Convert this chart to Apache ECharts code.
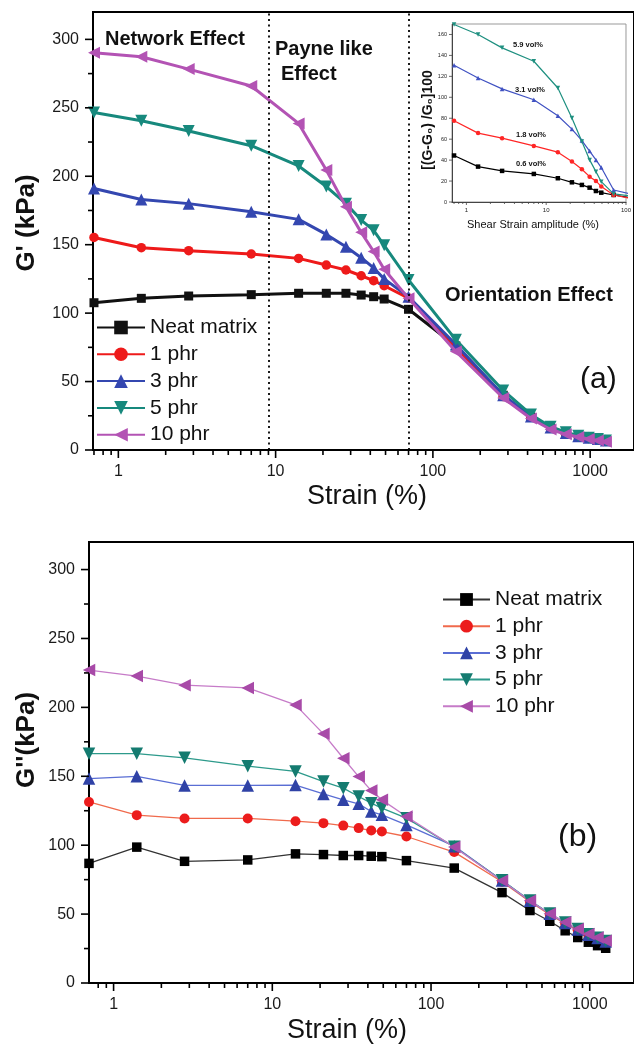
<!DOCTYPE html>
<html><head><meta charset="utf-8">
<script src="https://cdn.jsdelivr.net/npm/echarts@6/dist/echarts.min.js"></script>
<style>html,body{margin:0;padding:0;background:#fff}#c{width:634px;height:1049px}</style>
</head><body><div id="c"></div>
<script>
// ---------- data ----------
const strain = [0.7,1.4,2.8,7,14,21,28,35,42,49,70,140,280,420,560,700,840,980,1120,1260];
const seriesNames = ['Neat matrix','1 phr','3 phr','5 phr','10 phr'];
// panel (a) G' (kPa)
const gpNeat = [107.6,110.8,112.5,113.5,114.5,114.5,114.5,113.2,112,110.3,102.8,76,40,24,16,12,10,8.5,7.5,6.5];
const gp1 = [155.3,147.8,145.6,143.2,140,135.1,131.5,127.3,123.7,120,111,75,39,24,16,12,10,8.5,7.5,6.5];
const gp3 = [191,183,180,174,168.5,157.5,148.5,140.5,133,125,112,77,40,24.5,16.5,12.5,10,9,8,7];
const gp5 = [246.6,240.6,233,222.3,207.5,192.5,180,168,160.5,149.5,124.2,80.5,43.5,26,17,13,10.5,9,8,7];
const gp10 = [290.2,287.3,278.3,265.9,238.6,204.5,177.7,159,145,132,110.8,72,38,23,15,11.5,9.5,8,7,6];
// panel (b) G'' (kPa)
const gppNeat = [86.8,98.6,88.3,89.3,93.7,93.2,92.5,92.5,92,91.7,88.8,83.4,65.6,52.6,44.8,37.9,33,29.6,27.1,25.2];
const gpp1 = [131.4,121.8,119.4,119.4,117.4,116,114.2,112.4,110.6,109.9,106.3,95,73.5,59,49.5,43,38.2,34.6,32,29.6];
const gpp3 = [148.3,150,143.4,143.4,143.6,137.2,132.9,130,124.4,122,114.7,99.3,74.3,59.6,50.2,43.6,38.8,35.1,32.6,30.2];
const gpp5 = [166.4,166.4,163.4,157.3,153.5,146.2,141.4,135.3,130.5,126.9,119.6,98.8,74.6,59.8,50.4,43.9,39.1,35.4,32.9,30.5];
const gpp10 = [227.1,222.7,216.1,214.1,201.8,180.8,163.1,149.8,139.6,132.9,120.8,98.6,74.2,59.7,50.3,44,39.2,35.6,33.1,30.7];
// inset [(G-G0)/G0]100
const insetStrain = [0.7,1.4,2.8,7,14,21,28,35,42,49,70,140];
const insetNames = ['0.6 vol%','1.8 vol%','3.1 vol%','5.9 vol%'];
const inset06 = [44.4,33.8,29.7,26.8,22.7,18.8,16.3,13.7,10.5,8.9,6.7,3];
const inset18 = [77.6,65.8,61,53.6,47.6,38.6,31.3,24.2,20.1,14.7,6.7,2];
const inset31 = [130.6,118.5,108,97.7,82.4,69.6,58.7,48.6,40.2,32.9,11.5,6];
const inset59 = [169.5,160,147.2,134.4,108.9,80.2,57.8,40.2,29,19.4,7.7,5];
// regime boundaries (strain %)
const regimeLines = [9, 70];
// ticks
const xMajor = [1,10,100,1000];
const xMinorA = [0.7,0.8,0.9,2,3,4,5,6,7,8,9,20,30,40,50,60,70,80,90,200,300,400,500,600,700,800,900];
const xMinorB = [0.8,0.9,2,3,4,5,6,7,8,9,20,30,40,50,60,70,80,90,200,300,400,500,600,700,800,900];
const yMajor = [0,50,100,150,200,250,300];
const yMinor = [25,75,125,175,225,275];
const insetXMajor = [1,10,100];
const insetXMinor = [0.7,0.8,0.9,2,3,4,5,6,7,8,9,20,30,40,50,60,70,80,90];
const insetYMajor = [0,20,40,60,80,100,120,140,160];

// ---------- helpers ----------
const FF = '"Liberation Sans", Arial, sans-serif';
const pairs = (xs, ys) => xs.map((x, i) => [x, ys[i]]);
const pow10Label = v => { const l = Math.log10(v); return Math.abs(l - Math.round(l)) < 1e-6 ? String(Math.round(v)) : ''; };

function tickData(xMaj, xMin, yMaj, yMin, x0, y0, lMaj, lMin) {
  const d = [];
  xMaj.forEach(v => d.push([v, y0, 0, lMaj]));
  xMin.forEach(v => d.push([v, y0, 0, lMin]));
  yMaj.forEach(v => d.push([x0, v, 1, lMaj]));
  yMin.forEach(v => d.push([x0, v, 1, lMin]));
  return d;
}
function tickSeries(idx, data, color, width) {
  return {
    type: 'custom', xAxisIndex: idx, yAxisIndex: idx, silent: true, clip: false, z: 5,
    data: data,
    renderItem: function (params, api) {
      const p = api.coord([api.value(0), api.value(1)]);
      const len = api.value(3);
      const isX = api.value(2) === 0;
      return {
        type: 'line',
        shape: isX ? {x1: p[0], y1: p[1], x2: p[0], y2: p[1] + len} : {x1: p[0], y1: p[1], x2: p[0] - len, y2: p[1]},
        style: {stroke: color, lineWidth: width}
      };
    }
  };
}

const symA = [['rect',0,9],['circle',0,9.5],['triangle',0,12],['triangle',180,12],['triangle',90,12]];
const colA = ['#111111','#ee1a1a','#3447b0','#17897d','#b353b4'];
const colBLine = ['#333333','#f06a4c','#5a6ed4','#2d9a8b','#c67bc8'];
const colBMark = ['#000000','#ec1c1c','#2f42a6','#147b70','#a84aa8'];
const dataA = [gpNeat, gp1, gp3, gp5, gp10];
const dataB = [gppNeat, gpp1, gpp3, gpp5, gpp10];

const series = [];
seriesNames.forEach((n, i) => {
  const s = {
    type: 'line', name: n, xAxisIndex: 0, yAxisIndex: 0, clip: false,
    data: pairs(strain, dataA[i]),
    symbol: symA[i][0], symbolRotate: symA[i][1], symbolSize: symA[i][2],
    lineStyle: {color: colA[i], width: 3}, itemStyle: {color: colA[i]}, z: 3 + i * 0.01
  };
  if (i === 0) {
    s.markLine = {
      silent: true, symbol: 'none', label: {show: false},
      lineStyle: {type: [2, 3.5], color: '#000', width: 1.8},
      data: regimeLines.map(v => ({xAxis: v}))
    };
  }
  series.push(s);
});
seriesNames.forEach((n, i) => {
  series.push({
    type: 'line', name: 'b:' + n, xAxisIndex: 1, yAxisIndex: 1, clip: false,
    data: pairs(strain, dataB[i]),
    symbol: symA[i][0], symbolRotate: symA[i][1], symbolSize: symA[i][2] + 0.5,
    lineStyle: {color: colBLine[i], width: 1.3}, itemStyle: {color: colBMark[i]}
  });
});
const insetCol = ['#000000','#ff2626','#4052c2','#1f9080'];
const insetSym = [['rect',0],['circle',0],['triangle',0],['triangle',180]];
[inset06, inset18, inset31, inset59].forEach((d, i) => {
  series.push({
    type: 'line', name: insetNames[i], xAxisIndex: 2, yAxisIndex: 2, clip: true,
    data: pairs(insetStrain, d),
    symbol: insetSym[i][0], symbolRotate: insetSym[i][1], symbolSize: 4.5,
    lineStyle: {color: insetCol[i], width: 1.2}, itemStyle: {color: insetCol[i]}
  });
});
series.push(tickSeries(0, tickData(xMajor, xMinorA, yMajor, yMinor, 0.69, 0, 8, 5), '#000', 1.6));
series.push(tickSeries(1, tickData(xMajor, xMinorB, yMajor, yMinor, 0.7, 0, 8, 5), '#000', 1.6));
series.push(tickSeries(2, tickData(insetXMajor, insetXMinor, insetYMajor, [], 0.66, 0, 3, 2), '#444', 0.8));

function mainX(idx, min, max) {
  return {
    type: 'log', gridIndex: idx, min: min, max: max,
    axisLine: {show: true, onZero: false, lineStyle: {color: '#000', width: 2}},
    axisTick: {show: false}, minorTick: {show: false}, splitLine: {show: false},
    axisLabel: {fontSize: 16, fontFamily: FF, color: '#1a1a1a', margin: 14, formatter: pow10Label, showMinLabel: true, showMaxLabel: false}
  };
}
function mainY(idx) {
  return {
    type: 'value', gridIndex: idx, min: 0, max: 320, interval: 50,
    axisLine: {show: true, onZero: false, lineStyle: {color: '#000', width: 2}},
    axisTick: {show: false}, splitLine: {show: false},
    axisLabel: {fontSize: 16, fontFamily: FF, color: '#1a1a1a', margin: 14, showMaxLabel: false,
      formatter: v => (v === 320 ? '' : String(v))}
  };
}

const txt = (x, y, text, font, opts) => Object.assign({
  type: 'text', x: x, y: y, silent: true, z: 100,
  style: Object.assign({text: text, font: font, fill: '#111', align: 'left', textAlign: 'left', verticalAlign: 'middle', textVerticalAlign: 'middle'}, (opts && opts.style) || {})
}, opts && opts.rotation ? {rotation: opts.rotation} : {});

const option = {
  animation: false,
  backgroundColor: '#fff',
  grid: [
    {left: 93, top: 12, width: 541, height: 438, show: true, borderColor: '#000', borderWidth: 2, containLabel: false},
    {left: 89, top: 542, width: 545, height: 441, show: true, borderColor: '#000', borderWidth: 2, containLabel: false},
    {left: 452, top: 24, width: 180, height: 178, show: true, borderColor: '#999', borderWidth: 1, backgroundColor: '#fff', containLabel: false}
  ],
  xAxis: [
    mainX(0, 0.69, 1900),
    mainX(1, 0.7, 1900),
    {type: 'log', gridIndex: 2, min: 0.66, max: 100,
      axisLine: {show: true, onZero: false, lineStyle: {color: '#444', width: 1}},
      axisTick: {show: false}, splitLine: {show: false},
      axisLabel: {fontSize: 6, fontFamily: FF, color: '#222', margin: 5, formatter: pow10Label, showMaxLabel: true}}
  ],
  yAxis: [
    mainY(0), mainY(1),
    {type: 'value', gridIndex: 2, min: 0, max: 170, interval: 20,
      axisLine: {show: true, onZero: false, lineStyle: {color: '#444', width: 1}},
      axisTick: {show: false}, splitLine: {show: false},
      axisLabel: {fontSize: 5.5, fontFamily: FF, color: '#222', margin: 5, showMaxLabel: false,
        formatter: v => (v === 170 ? '' : String(v))}}
  ],
  legend: [
    {orient: 'vertical', left: 96, top: 317, padding: 0, itemWidth: 48, itemHeight: 17, itemGap: 5.8,
      selectedMode: false, data: seriesNames,
      textStyle: {fontSize: 21, fontFamily: FF, color: '#111', lineHeight: 20}},
    {orient: 'vertical', left: 442, top: 589, padding: 0, itemWidth: 47, itemHeight: 16, itemGap: 5.7,
      selectedMode: false, data: seriesNames.map(n => 'b:' + n),
      formatter: n => n.replace(/^b:/, ''),
      textStyle: {fontSize: 21, fontFamily: FF, color: '#111', lineHeight: 20}}
  ],
  graphic: [
    txt(27, 223, "G' (kPa)", 'bold 26px ' + FF, {rotation: Math.PI / 2, style: {align: 'center', textAlign: 'center'}}),
    txt(27, 740, "G''(kPa)", 'bold 26px ' + FF, {rotation: Math.PI / 2, style: {align: 'center', textAlign: 'center'}}),
    txt(367, 497, 'Strain (%)', '27px ' + FF, {style: {align: 'center', textAlign: 'center'}}),
    txt(347, 1031, 'Strain (%)', '27px ' + FF, {style: {align: 'center', textAlign: 'center'}}),
    txt(105, 39, 'Network Effect', 'bold 20px ' + FF),
    txt(275, 49, 'Payne like', 'bold 20px ' + FF),
    txt(281, 74, 'Effect', 'bold 20px ' + FF),
    txt(445, 295, 'Orientation Effect', 'bold 20px ' + FF),
    txt(580, 380, '(a)', '30px ' + FF),
    txt(558, 837, '(b)', '32px ' + FF),
    txt(428, 120, '[(G-G\u2080) /G\u2080]100', 'bold 14px ' + FF, {rotation: Math.PI / 2, style: {align: 'center', textAlign: 'center'}}),
    txt(533, 225, 'Shear Strain amplitude (%)', '11px ' + FF, {style: {align: 'center', textAlign: 'center'}}),
    txt(528, 45, '5.9 vol%', 'bold 7.5px ' + FF, {style: {align: 'center', textAlign: 'center'}}),
    txt(530, 90, '3.1 vol%', 'bold 7.5px ' + FF, {style: {align: 'center', textAlign: 'center'}}),
    txt(531, 135, '1.8 vol%', 'bold 7.5px ' + FF, {style: {align: 'center', textAlign: 'center'}}),
    txt(531, 164, '0.6 vol%', 'bold 7.5px ' + FF, {style: {align: 'center', textAlign: 'center'}})
  ],
  series: series
};
const chart = echarts.init(document.getElementById('c'), null, {renderer: 'canvas'});
chart.setOption(option);
</script></body></html>
